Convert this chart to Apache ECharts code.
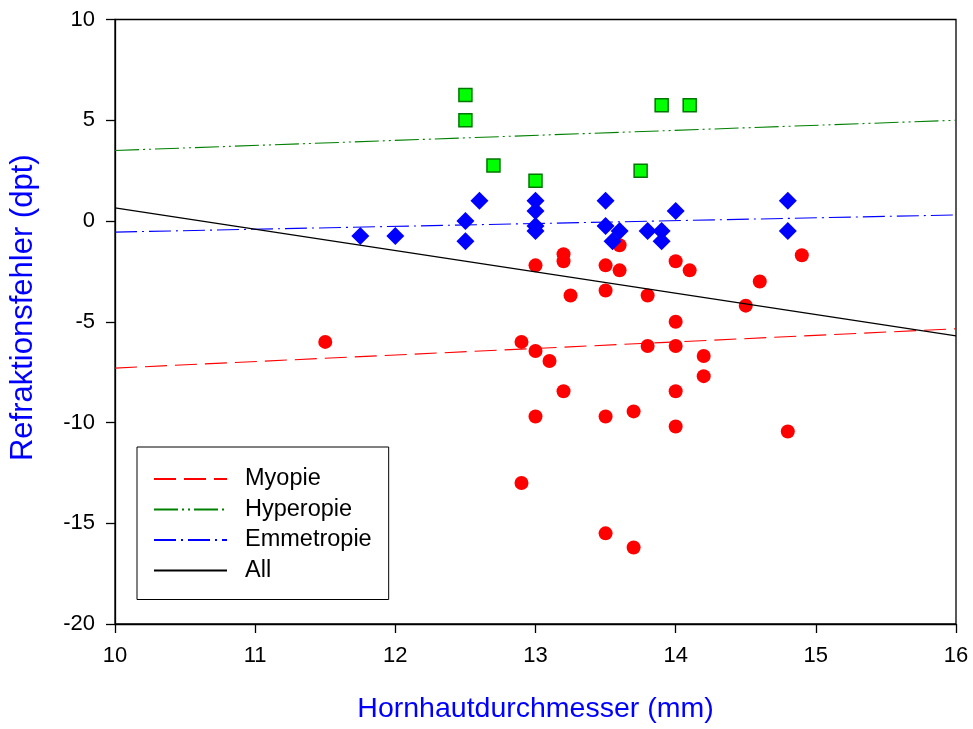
<!DOCTYPE html>
<html>
<head>
<meta charset="utf-8">
<script src="https://cdn.jsdelivr.net/npm/echarts@6/dist/echarts.min.js"></script>
<style>
  html, body { margin: 0; padding: 0; background: #fff; }
  #chart { width: 973px; height: 729px; }
</style>
</head>
<body>
<div id="chart"></div>
<script>
// Corneal diameter (mm) vs. refractive error (dpt), grouped by refraction class
const myopie = [
  [11.5, -6.0], [12.9, -6.0], [12.9, -13.0], [13.0, -2.2], [13.0, -6.45],
  [13.0, -9.7], [13.1, -6.95], [13.2, -1.65], [13.2, -2.0], [13.2, -8.45],
  [13.25, -3.7], [13.5, -2.2], [13.5, -3.45], [13.5, -9.7], [13.5, -15.5],
  [13.6, -1.2], [13.6, -2.45], [13.7, -9.45], [13.7, -16.2], [13.8, -3.7],
  [13.8, -6.2], [14.0, -2.0], [14.0, -5.0], [14.0, -6.2], [14.0, -8.45],
  [14.0, -10.2], [14.1, -2.45], [14.2, -6.7], [14.2, -7.7], [14.5, -4.2],
  [14.6, -3.0], [14.8, -10.45], [14.9, -1.7]
];
const hyperopie = [
  [12.5, 6.25], [12.5, 5.0], [12.7, 2.75], [13.0, 2.0],
  [13.75, 2.5], [13.9, 5.75], [14.1, 5.75]
];
const emmetropie = [
  [11.75, -0.75], [12.0, -0.75], [12.5, 0.0], [12.5, -1.0], [12.6, 1.0],
  [13.0, 1.0], [13.0, 0.5], [13.0, -0.25], [13.0, -0.5],
  [13.5, 1.0], [13.5, -0.25], [13.55, -1.0], [13.6, -0.5],
  [13.8, -0.5], [13.9, -0.5], [13.9, -1.0], [14.0, 0.5],
  [14.8, 1.0], [14.8, -0.5]
];

// Linear fits, evaluated at both ends of the x range
const fitX = [10, 16];
const fitMyopie = [-7.3, -5.35];
const fitHyperopie = [3.5, 5.0];
const fitEmmetropie = [-0.55, 0.3];
const fitAll = [0.65, -5.7];

const xTicks = [10, 11, 12, 13, 14, 15, 16];
const yTicks = [-20, -15, -10, -5, 0, 5, 10];

const FONT = "'Liberation Sans', Arial, sans-serif";
const pairs = (xs, ys) => xs.map((x, i) => [x, ys[i]]);

const chart = echarts.init(document.getElementById('chart'), null, { renderer: 'canvas' });

function fitSeries(name, ys, color, dash) {
  return {
    name: name,
    type: 'line',
    data: pairs(fitX, ys),
    symbol: 'none',
    showSymbol: false,
    z: 5,
    silent: true,
    lineStyle: { color: color, width: 1.1, type: dash },
    itemStyle: { color: color }
  };
}

const option = {
  animation: false,
  backgroundColor: '#ffffff',
  grid: {
    left: 115, right: 17, top: 19.5, bottom: 105,
    containLabel: false,
    outerBoundsMode: 'none',
    show: true, borderColor: '#000', borderWidth: 1.3, backgroundColor: 'transparent'
  },
  xAxis: {
    type: 'value',
    min: xTicks[0], max: xTicks[xTicks.length - 1], interval: 1,
    name: 'Hornhautdurchmesser (mm)',
    nameLocation: 'middle', nameGap: 71,
    nameTextStyle: { color: '#0000FF', fontSize: 28.5, fontFamily: FONT },
    axisLine: { onZero: false, lineStyle: { color: '#000', width: 1.3 } },
    axisTick: { inside: false, length: 9, lineStyle: { color: '#000', width: 1.3 } },
    axisLabel: { color: '#000', fontSize: 22, fontFamily: FONT, margin: 21 },
    splitLine: { show: false }
  },
  yAxis: {
    type: 'value',
    min: yTicks[0], max: yTicks[yTicks.length - 1], interval: 5,
    name: 'Refraktionsfehler (dpt)',
    nameLocation: 'middle', nameGap: 76, nameRotate: 90,
    nameTextStyle: { color: '#0000FF', fontSize: 31, fontFamily: FONT, padding: [0, 0, 0, 28] },
    axisLine: { onZero: false, lineStyle: { color: '#000', width: 1.3 } },
    axisTick: { inside: false, length: 9, lineStyle: { color: '#000', width: 1.3 } },
    axisLabel: { color: '#000', fontSize: 22, fontFamily: FONT, margin: 20 },
    splitLine: { show: false }
  },
  legend: {
    data: ['Myopie', 'Hyperopie', 'Emmetropie', 'All'],
    orient: 'vertical',
    left: 137, top: 447,
    itemWidth: 73, itemHeight: 14, itemGap: 6.5,
    padding: [20, 17, 17, 16],
    borderColor: '#000', borderWidth: 1,
    backgroundColor: '#fff',
    selectedMode: false,
    itemStyle: { opacity: 0 },
    textStyle: { color: '#000', fontSize: 23.5, fontFamily: FONT, lineHeight: 21, padding: [0, 0, 0, 13] }
  },
  series: [
    {
      name: 'Myopie (Daten)', type: 'scatter', data: myopie,
      symbol: 'circle', symbolSize: 14, z: 2,
      itemStyle: { color: '#FF0000', opacity: 1 }
    },
    {
      name: 'Hyperopie (Daten)', type: 'scatter', data: hyperopie,
      symbol: 'rect', symbolSize: 13, z: 3,
      itemStyle: { color: '#00FF00', borderColor: '#007700', borderWidth: 1.5, opacity: 1 }
    },
    {
      name: 'Emmetropie (Daten)', type: 'scatter', data: emmetropie,
      symbol: 'diamond', symbolSize: [18, 18], z: 4,
      itemStyle: { color: '#0000FF', opacity: 1 }
    },
    fitSeries('Myopie', fitMyopie, '#FF0000', [22, 8]),
    fitSeries('Hyperopie', fitHyperopie, '#008000', [24, 4, 2, 4, 2, 4]),
    fitSeries('Emmetropie', fitEmmetropie, '#0000FF', [22, 5, 2, 5]),
    fitSeries('All', fitAll, '#000000', 'solid')
  ]
};

chart.setOption(option);
</script>
</body>
</html>
